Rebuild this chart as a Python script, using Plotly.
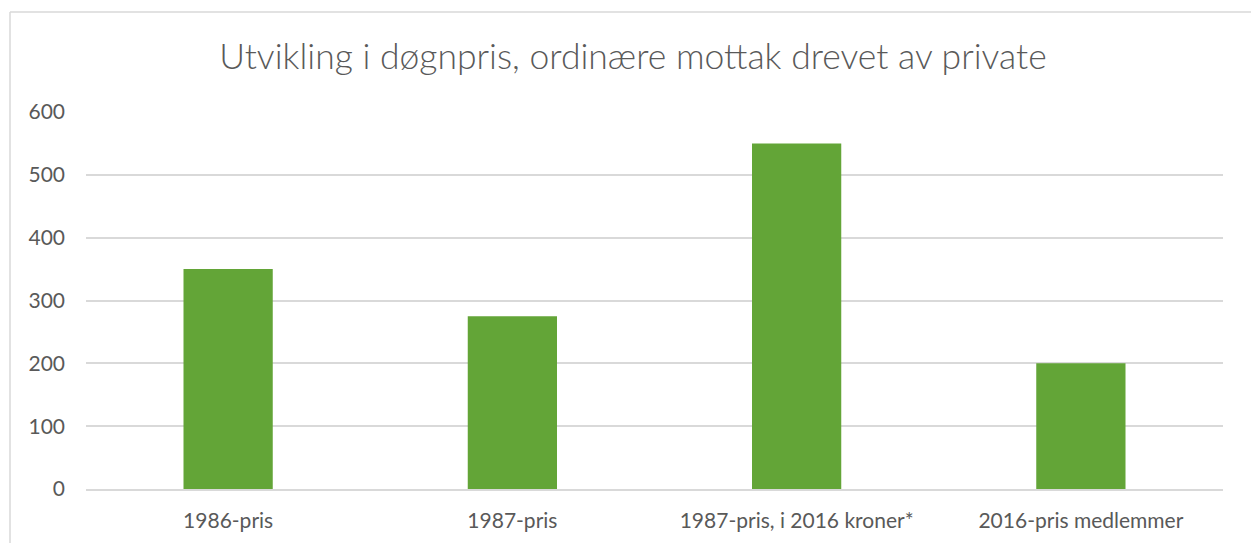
import plotly.graph_objects as go

categories = ["1986-pris", "1987-pris", "1987-pris, i 2016 kroner*", "2016-pris medlemmer"]
values = [350, 275, 550, 200]
title_text = "Utvikling i døgnpris, ordinære mottak drevet av private"
y_ticks = [0, 100, 200, 300, 400, 500, 600]

FONT = "Lato, Calibri, Carlito, sans-serif"
TXT = "#595959"
GRID = "#D9D9D9"

fig = go.Figure(go.Bar(x=categories, y=values, marker=dict(color="#63A537", line=dict(width=0)),
                       hoverinfo="x+y"))

W, H = 1251, 543
L, R, T, B = 86, 28, 112, 54
pw, ph = W - L - R, H - T - B

fig.update_layout(
    width=W, height=H,
    margin=dict(l=L, r=R, t=T, b=B, pad=0),
    paper_bgcolor="white", plot_bgcolor="white",
    bargap=0.686,
    showlegend=False,
    title=dict(text=title_text, x=633 / W, xanchor="center", y=1 - 57 / H, yanchor="middle",
               font=dict(family=FONT, size=35.5, color=TXT, weight=300)),
    font=dict(family=FONT, size=21, color=TXT),
    xaxis=dict(showgrid=False, showline=True, linecolor=GRID, linewidth=1.5,
               tickfont=dict(family=FONT, size=21, color=TXT), ticks="", ticklabelstandoff=12),
    yaxis=dict(range=[0, 600], tickvals=y_ticks, showgrid=True, gridcolor=GRID, gridwidth=1.5,
               zeroline=False, showline=False, ticks="",
               tickfont=dict(family=FONT, size=21, color=TXT), ticklabelstandoff=20),
    shapes=[
        dict(type="line", xref="paper", yref="paper", x0=(10 - L) / pw, x1=(W + 5 - L) / pw,
             y0=(H - B - 12) / ph, y1=(H - B - 12) / ph, line=dict(color=GRID, width=1.5)),
        dict(type="line", xref="paper", yref="paper", x0=(10 - L) / pw, x1=(10 - L) / pw,
             y0=(H - B - 12) / ph, y1=-(B + 5) / ph, line=dict(color=GRID, width=1.5)),
    ],
)

fig.write_html("out.html", config={"displayModeBar": False},
               post_script="document.body.style.margin='0px';document.body.style.overflow='hidden';")
